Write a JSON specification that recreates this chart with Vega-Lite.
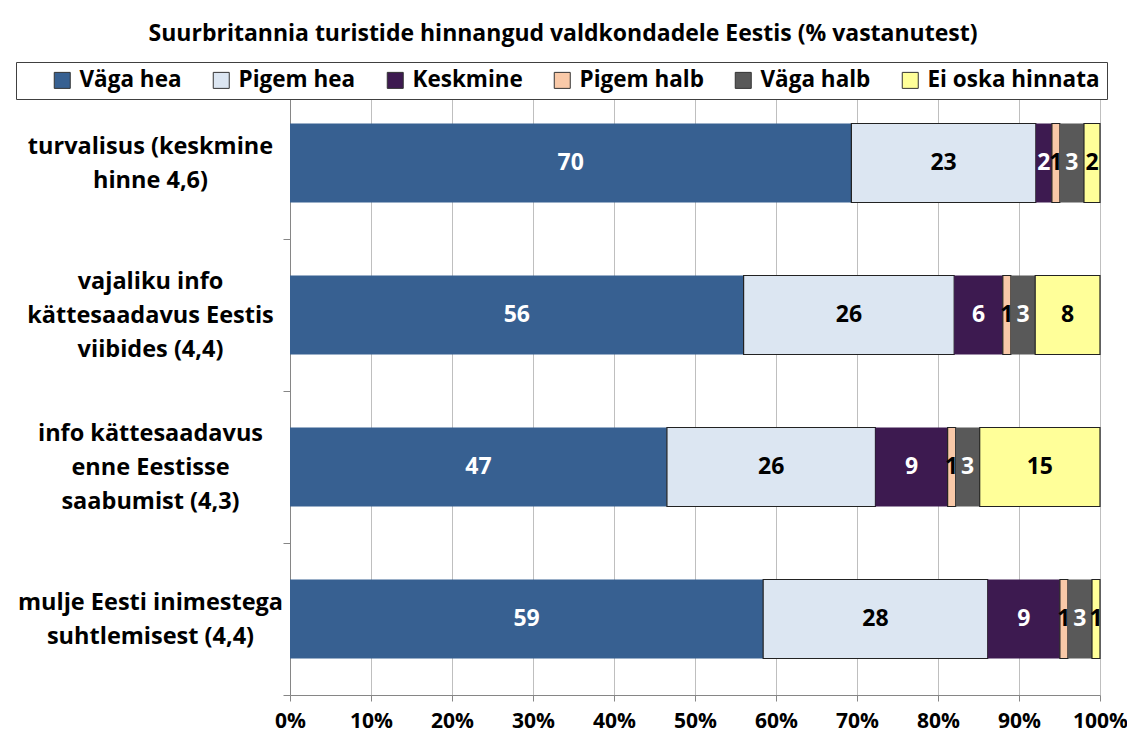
{
  "$schema": "https://vega.github.io/schema/vega-lite/v6.json",
  "autosize": "none",
  "width": 810,
  "height": 608,
  "padding": {"left": 290, "top": 87, "right": 27, "bottom": 45},
  "background": "white",
  "config": {
    "view": {"stroke": null},
    "font": "Open Sans",
    "text": {"font": "Open Sans"}
  },
  "title": {
    "text": "Suurbritannia turistide hinnangud valdkondadele Eestis (% vastanutest)",
    "anchor": "middle",
    "frame": "group",
    "dx": -132,
    "offset": 16,
    "font": "Open Sans",
    "fontSize": 23,
    "fontWeight": "bold",
    "color": "black"
  },
  "data": {
    "values": [
      {"q": "turvalisus (keskmine|hinne 4,6)", "cat": "Väga hea", "i": 1, "v": 70},
      {"q": "turvalisus (keskmine|hinne 4,6)", "cat": "Pigem hea", "i": 2, "v": 23},
      {"q": "turvalisus (keskmine|hinne 4,6)", "cat": "Keskmine", "i": 3, "v": 2},
      {"q": "turvalisus (keskmine|hinne 4,6)", "cat": "Pigem halb", "i": 4, "v": 1},
      {"q": "turvalisus (keskmine|hinne 4,6)", "cat": "Väga halb", "i": 5, "v": 3},
      {"q": "turvalisus (keskmine|hinne 4,6)", "cat": "Ei oska hinnata", "i": 6, "v": 2},
      {"q": "vajaliku info|kättesaadavus Eestis|viibides (4,4)", "cat": "Väga hea", "i": 1, "v": 56},
      {"q": "vajaliku info|kättesaadavus Eestis|viibides (4,4)", "cat": "Pigem hea", "i": 2, "v": 26},
      {"q": "vajaliku info|kättesaadavus Eestis|viibides (4,4)", "cat": "Keskmine", "i": 3, "v": 6},
      {"q": "vajaliku info|kättesaadavus Eestis|viibides (4,4)", "cat": "Pigem halb", "i": 4, "v": 1},
      {"q": "vajaliku info|kättesaadavus Eestis|viibides (4,4)", "cat": "Väga halb", "i": 5, "v": 3},
      {"q": "vajaliku info|kättesaadavus Eestis|viibides (4,4)", "cat": "Ei oska hinnata", "i": 6, "v": 8},
      {"q": "info kättesaadavus|enne Eestisse|saabumist (4,3)", "cat": "Väga hea", "i": 1, "v": 47},
      {"q": "info kättesaadavus|enne Eestisse|saabumist (4,3)", "cat": "Pigem hea", "i": 2, "v": 26},
      {"q": "info kättesaadavus|enne Eestisse|saabumist (4,3)", "cat": "Keskmine", "i": 3, "v": 9},
      {"q": "info kättesaadavus|enne Eestisse|saabumist (4,3)", "cat": "Pigem halb", "i": 4, "v": 1},
      {"q": "info kättesaadavus|enne Eestisse|saabumist (4,3)", "cat": "Väga halb", "i": 5, "v": 3},
      {"q": "info kättesaadavus|enne Eestisse|saabumist (4,3)", "cat": "Ei oska hinnata", "i": 6, "v": 15},
      {"q": "mulje Eesti inimestega|suhtlemisest (4,4)", "cat": "Väga hea", "i": 1, "v": 59},
      {"q": "mulje Eesti inimestega|suhtlemisest (4,4)", "cat": "Pigem hea", "i": 2, "v": 28},
      {"q": "mulje Eesti inimestega|suhtlemisest (4,4)", "cat": "Keskmine", "i": 3, "v": 9},
      {"q": "mulje Eesti inimestega|suhtlemisest (4,4)", "cat": "Pigem halb", "i": 4, "v": 1},
      {"q": "mulje Eesti inimestega|suhtlemisest (4,4)", "cat": "Väga halb", "i": 5, "v": 3},
      {"q": "mulje Eesti inimestega|suhtlemisest (4,4)", "cat": "Ei oska hinnata", "i": 6, "v": 1}
    ]
  },
  "encoding": {
    "y": {
      "field": "q",
      "type": "nominal",
      "sort": null,
      "scale": {"paddingInner": 0.48, "paddingOuter": 0.24},
      "axis": {
        "title": null,
        "labelExpr": "split(datum.label, '|')",
        "labelAlign": "center",
        "labelBaseline": "middle",
        "labelPadding": 133,
        "labelFont": "Open Sans",
        "labelFontSize": 23.5,
        "labelFontWeight": "bold",
        "labelColor": "black",
        "labelLineHeight": 34,
        "labelLimit": 400,
        "tickOffset": 76,
        "labelOffset": {
          "condition": {"test": "indexof(datum.value, 'vajaliku') >= 0 || indexof(datum.value, 'enne') >= 0", "value": -110},
          "value": -93
        },
        "tickSize": 7,
        "tickColor": "#868686",
        "domainColor": "#868686",
        "grid": false
      }
    },
    "x": {
      "field": "v",
      "type": "quantitative",
      "stack": "normalize",
      "scale": {"domain": [0, 1], "nice": false},
      "axis": {
        "title": null,
        "values": [0, 0.1, 0.2, 0.3, 0.4, 0.5, 0.6, 0.7, 0.8, 0.9, 1],
        "format": ".0%",
        "labelFlush": false,
        "labelOverlap": false,
        "labelFont": "Open Sans",
        "labelFontSize": 21,
        "labelFontWeight": "bold",
        "labelColor": "black",
        "labelPadding": 9,
        "tickSize": 6,
        "tickColor": "#868686",
        "domainColor": "#868686",
        "grid": true,
        "gridColor": "#BFBFBF",
        "gridWidth": 1
      }
    },
    "order": {"field": "i", "type": "quantitative"}
  },
  "layer": [
    {
      "mark": {"type": "bar", "strokeWidth": 1.2},
      "encoding": {
        "fill": {
          "field": "cat",
          "type": "nominal",
          "scale": {
            "domain": ["Väga hea", "Pigem hea", "Keskmine", "Pigem halb", "Väga halb", "Ei oska hinnata"],
            "range": ["#376091", "#DCE6F2", "#3D1A50", "#F9C9A8", "#595959", "#FFFF99"]
          },
          "legend": {
            "title": null,
            "orient": "none",
            "legendX": -274,
            "legendY": -25,
            "direction": "horizontal",
            "columns": 6,
            "columnPadding": -3,
            "symbolType": "square",
            "symbolSize": 256,
            "symbolOffset": 28,
            "symbolStrokeColor": "#333333",
            "symbolStrokeWidth": 1,
            "labelFont": "Open Sans",
            "labelFontSize": 22.5,
            "labelFontWeight": "bold",
            "labelColor": "black",
            "labelOffset": 6,
            "labelLimit": 400,
            "padding": 7,
            "strokeColor": "#404040",
            "fillColor": "white"
          }
        },
        "stroke": {
          "condition": {"test": "indexof(['Pigem hea','Pigem halb','Ei oska hinnata'], datum.cat) >= 0", "value": "#222222"},
          "value": null
        }
      }
    },
    {
      "mark": {"type": "text", "font": "Open Sans", "fontSize": 23, "fontWeight": "bold", "baseline": "middle", "align": "center"},
      "encoding": {
        "x": {"field": "v", "type": "quantitative", "stack": "normalize", "bandPosition": 0.5},
        "text": {"field": "v", "type": "quantitative"},
        "color": {
          "condition": {"test": "indexof(['Väga hea','Keskmine','Väga halb'], datum.cat) >= 0", "value": "white"},
          "value": "black"
        }
      }
    }
  ]
}
